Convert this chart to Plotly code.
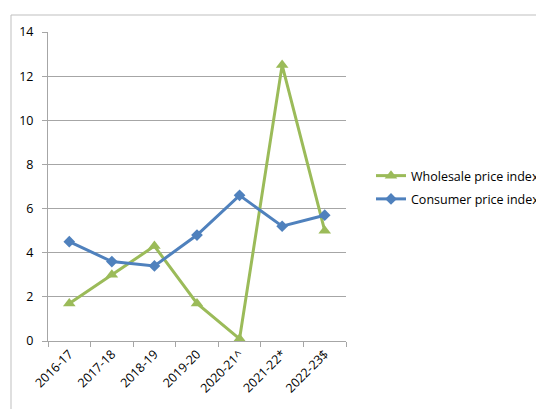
import plotly.graph_objects as go

categories = ["2016-17", "2017-18", "2018-19", "2019-20", "2020-21^", "2021-22*", "2022-23$"]
wholesale = [1.7, 3.0, 4.3, 1.7, 0.1, 12.5, 5.0]
consumer = [4.5, 3.6, 3.4, 4.8, 6.6, 5.2, 5.7]
y_ticks = [0, 2, 4, 6, 8, 10, 12, 14]

W, H = 536, 409
L, R, T, B = 48, 346, 32, 341

fig = go.Figure()
fig.add_trace(go.Scatter(
    x=categories, y=wholesale, name="Wholesale price index",
    mode="lines+markers", legendgroup="w",
    line=dict(color="#9BBB59", width=3),
    marker=dict(symbol="triangle-up", size=11, color="#9BBB59"),
))
fig.add_trace(go.Scatter(
    x=categories, y=consumer, name="Consumer price index",
    mode="lines+markers", legendgroup="c",
    line=dict(color="#4F81BD", width=3),
    marker=dict(symbol="diamond", size=9, color="#4F81BD"),
))

pw = R - L
ph = B - T
fig.add_shape(type="rect", xref="paper", yref="paper",
              x0=(11 - L) / pw, x1=(W + 20 - L) / pw,
              y0=(B - (H + 20)) / ph, y1=(B - 15) / ph,
              line=dict(color="#BFBFBF", width=1), fillcolor="rgba(0,0,0,0)", layer="below")

fnt = "Open Sans, Liberation Sans, sans-serif"
fig.update_layout(
    width=W, height=H,
    margin=dict(l=L, r=W - R, t=T, b=H - B, autoexpand=False),
    paper_bgcolor="white", plot_bgcolor="white",
    font=dict(family=fnt, size=12.5, color="#000000"),
    showlegend=True,
    legend=dict(x=(371 - L) / pw, y=(B - 161) / ph, xanchor="left", yanchor="top",
                font=dict(family=fnt, size=12.5),
                tracegroupgap=4, itemwidth=30, bgcolor="rgba(0,0,0,0)"),
    xaxis=dict(type="category", range=[-0.5, 6.5], tickangle=-45,
               tickson="boundaries", ticks="outside", ticklen=5, tickcolor="#A6A6A6",
               showline=True, linecolor="#A6A6A6", linewidth=1,
               showgrid=False, zeroline=False, fixedrange=True),
    yaxis=dict(range=[0, 14], tickvals=y_ticks, ticks="outside", ticklen=5,
               tickcolor="#A6A6A6", showline=True, linecolor="#A6A6A6", linewidth=1,
               showgrid=True, gridcolor="#A6A6A6", gridwidth=1, zeroline=False,
               ticklabelstandoff=6),
)
fig.write_html("out.html")
